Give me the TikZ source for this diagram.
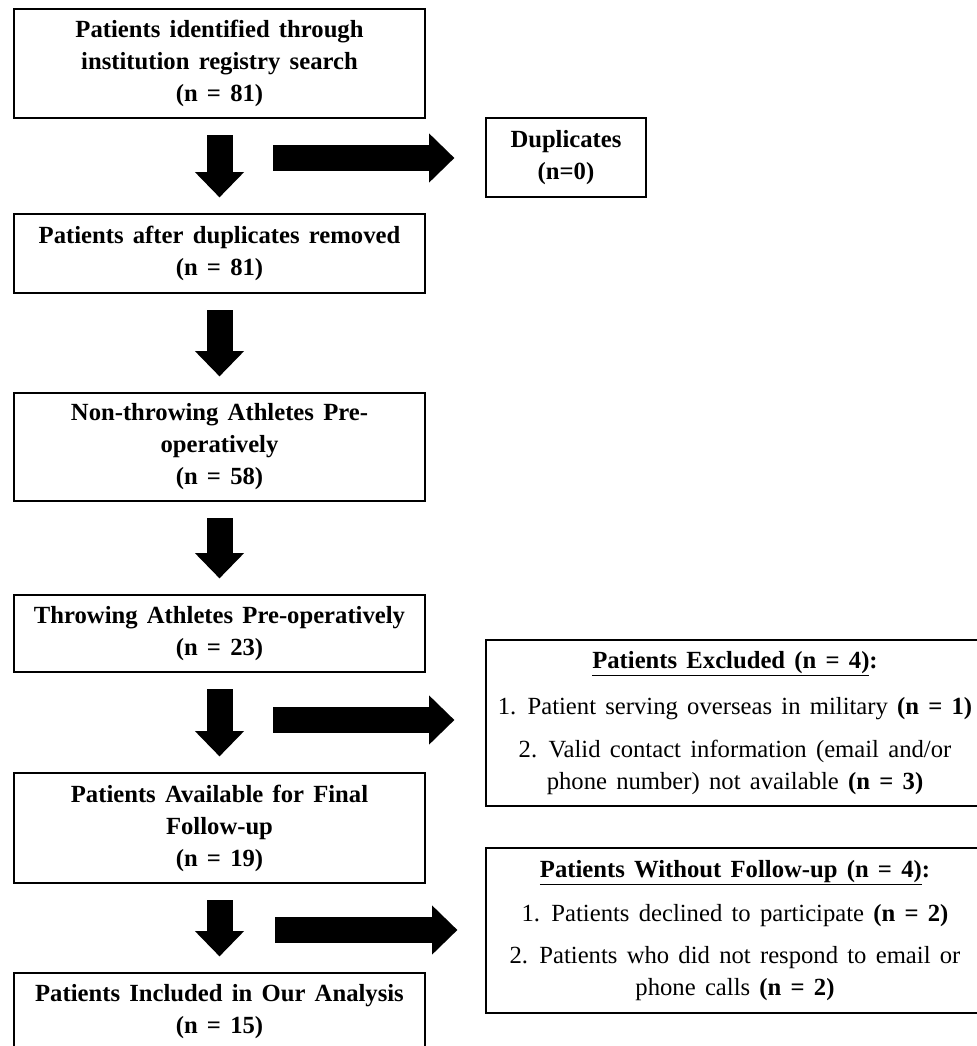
\documentclass[tikz,border=0pt]{standalone}
\usepackage{fontspec}
\setmainfont[WordSpace=1.5]{Liberation Serif}
\usetikzlibrary{arrows.meta}

\begin{document}
\begin{tikzpicture}[x=0.75pt, y=-0.75pt,
    flowbox/.style={draw=black, line width=1pt, align=center, font=\fontsize{18.5}{24}\selectfont\bfseries, minimum width=308.25pt},
    sidebox/.style={draw=black, line width=1pt, align=center, font=\fontsize{18.5}{24}\selectfont, minimum width=373.5pt},
    blockarrow/.style={line width=19.5pt, -{Triangle[length=19pt, width=37pt, line width=0pt]}},
  ]

\useasboundingbox (0,0) rectangle (976,1046);

% main column
\node[flowbox, minimum height=81.75pt] (box1) at (219.5,63.5) {Patients identified through\\institution registry search\\(n = 81)};
\node[flowbox, minimum height=59.25pt] (box2) at (219.5,253.5) {Patients after duplicates removed\\(n = 81)};
\node[flowbox, minimum height=81pt] (box3) at (219.5,447) {Non-throwing Athletes Pre-\\operatively\\(n = 58)};
\node[flowbox, minimum height=57.75pt] (box4) at (219.5,633.5) {Throwing Athletes Pre-operatively\\(n = 23)};
\node[flowbox, minimum height=82.5pt] (box5) at (219.5,828) {Patients Available for Final\\Follow-up\\(n = 19)};
\node[flowbox, minimum height=58.5pt] (box6) at (219.5,1012) {Patients Included in Our Analysis\\(n = 15)};

% side boxes
\node[flowbox, minimum width=120pt, minimum height=59.25pt] (dup) at (566,157.5) {Duplicates\\(n=0)};
\node[sidebox, minimum height=124.5pt] (excl) at (735,723) {\underline{\textbf{Patients Excluded (n = 4)}}\textbf{:}\\[11pt]
  1. Patient serving overseas in military \textbf{(n = 1)}\\[8pt]
  2. Valid contact information (email and/or\\phone number) not available \textbf{(n = 3)}};
\node[sidebox, minimum height=123.75pt] (nofollow) at (735,930.5) {\underline{\textbf{Patients Without Follow-up (n = 4)}}\textbf{:}\\[9pt]
  1. Patients declined to participate \textbf{(n = 2)}\\[8pt]
  2. Patients who did not respond to email or\\phone calls \textbf{(n = 2)}};

\foreach \a/\b in {box1/box2, box2/box3, box3/box4, box4/box5, box5/box6}
    \draw[blockarrow, shorten <=12.5pt, shorten >=12pt] (\a.south) -- (\b.north);

\coordinate (split1) at (273,158);
\coordinate (split2) at (273,720);
\coordinate (split3) at (275,930);
\draw[blockarrow, shorten >=23.25pt] (split1) -- (split1 -| dup.west);
\draw[blockarrow, shorten >=23.25pt] (split2) -- (split2 -| excl.west);
\draw[blockarrow, shorten >=21pt] (split3) -- (split3 -| nofollow.west);
\end{tikzpicture}
\end{document}
